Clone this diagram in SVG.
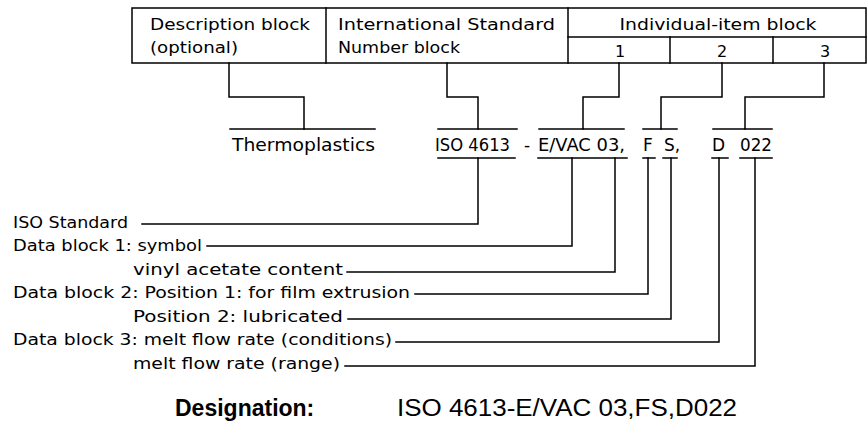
<svg xmlns="http://www.w3.org/2000/svg" width="868" height="433" viewBox="0 0 868 433">
<style>
.ln{fill:none;stroke:#000;stroke-width:1.5;stroke-linecap:square}
.t{font-family:"DejaVu Sans","Liberation Sans",sans-serif;font-size:16px;fill:#000}
.tm{font-family:"DejaVu Sans","Liberation Sans",sans-serif;font-size:17px;fill:#000}
.d{font-family:"Liberation Sans",Arial,sans-serif;font-size:23px;fill:#000}
</style>
<rect width="868" height="433" fill="#fff"/>
<g id="header">
  <rect class="ln" x="132" y="8" width="734" height="55"/>
  <line class="ln" x1="326" y1="8" x2="326" y2="63"/>
  <line class="ln" x1="568" y1="8" x2="568" y2="63"/>
  <line class="ln" x1="568" y1="37" x2="866" y2="37"/>
  <line class="ln" x1="670" y1="37" x2="670" y2="63"/>
  <line class="ln" x1="773" y1="37" x2="773" y2="63"/>
</g>
<g id="desc-block">
  <text class="t" x="150" y="30" textLength="160" lengthAdjust="spacingAndGlyphs">Description block</text>
  <text class="t" x="150" y="53" textLength="88" lengthAdjust="spacingAndGlyphs">(optional)</text>
</g>
<g id="isn-block">
  <text class="t" x="338" y="30" textLength="217" lengthAdjust="spacingAndGlyphs">International Standard</text>
  <text class="t" x="338" y="53" textLength="122" lengthAdjust="spacingAndGlyphs">Number block</text>
</g>
<g id="item-block">
  <text class="t" x="718" y="30" text-anchor="middle" textLength="197" lengthAdjust="spacingAndGlyphs">Individual-item block</text>
  <text class="t" x="620" y="57" text-anchor="middle">1</text>
  <text class="t" x="722" y="57" text-anchor="middle">2</text>
  <text class="t" x="825" y="57" text-anchor="middle">3</text>
</g>
<g id="designation-line">
  <text class="tm" x="232" y="151" textLength="143" lengthAdjust="spacingAndGlyphs">Thermoplastics</text>
  <text class="tm" x="435" y="151" textLength="75" lengthAdjust="spacingAndGlyphs">ISO 4613</text>
  <text class="tm" x="527" y="151" text-anchor="middle">-</text>
  <text class="tm" x="538" y="151" textLength="87" lengthAdjust="spacingAndGlyphs">E/VAC 03,</text>
  <text class="tm" x="643" y="151">F</text>
  <text class="tm" x="664" y="151">S,</text>
  <text class="tm" x="712" y="151">D</text>
  <text class="tm" x="740" y="151" textLength="32" lengthAdjust="spacingAndGlyphs">022</text>
</g>
<g id="labels">
  <text class="t" x="13" y="228" textLength="115" lengthAdjust="spacingAndGlyphs">ISO Standard</text>
  <text class="t" x="13" y="251" textLength="189" lengthAdjust="spacingAndGlyphs">Data block 1: symbol</text>
  <text class="t" x="133" y="275" textLength="210" lengthAdjust="spacingAndGlyphs">vinyl acetate content</text>
  <text class="t" x="13" y="298" textLength="397" lengthAdjust="spacingAndGlyphs">Data block 2: Position 1: for film extrusion</text>
  <text class="t" x="133" y="322" textLength="210" lengthAdjust="spacingAndGlyphs">Position 2: lubricated</text>
  <text class="t" x="13" y="345" textLength="379" lengthAdjust="spacingAndGlyphs">Data block 3: melt flow rate (conditions)</text>
  <text class="t" x="133" y="369" textLength="207" lengthAdjust="spacingAndGlyphs">melt flow rate (range)</text>
</g>
<g id="connectors">
  <polyline class="ln" points="229,63 229,97 304,97 304,129"/>
  <polyline class="ln" points="447,63 447,97 478,97 478,129"/>
  <polyline class="ln" points="619,63 619,97 583,97 583,129"/>
  <polyline class="ln" points="722,63 722,97 661,97 661,129"/>
  <polyline class="ln" points="824,63 824,97 745,97 745,129"/>
  <line class="ln" x1="230" y1="129" x2="375" y2="129"/>
  <line class="ln" x1="438" y1="129" x2="517" y2="129"/>
  <line class="ln" x1="539" y1="129" x2="624" y2="129"/>
  <line class="ln" x1="643" y1="129" x2="677" y2="129"/>
  <line class="ln" x1="713" y1="129" x2="772" y2="129"/>
  <line class="ln" x1="438" y1="158" x2="515" y2="158"/>
  <line class="ln" x1="538" y1="158" x2="627" y2="158"/>
  <line class="ln" x1="643" y1="158" x2="655" y2="158"/>
  <line class="ln" x1="663" y1="158" x2="677" y2="158"/>
  <line class="ln" x1="712" y1="158" x2="728" y2="158"/>
  <line class="ln" x1="740" y1="158" x2="772" y2="158"/>
  <polyline class="ln" points="478,158 478,224 142,224"/>
  <polyline class="ln" points="572,158 572,246 207,246"/>
  <polyline class="ln" points="615,158 615,272 347,272"/>
  <polyline class="ln" points="648,158 648,294 415,294"/>
  <polyline class="ln" points="671,158 671,319 348,319"/>
  <polyline class="ln" points="719,158 719,342 396,342"/>
  <polyline class="ln" points="755,158 755,366 345,366"/>
</g>
<g id="designation">
  <text class="d" x="175" y="416" font-weight="bold">Designation:</text>
  <text class="d" x="397" y="416" textLength="340" lengthAdjust="spacingAndGlyphs">ISO 4613-E/VAC 03,FS,D022</text>
</g>
</svg>
